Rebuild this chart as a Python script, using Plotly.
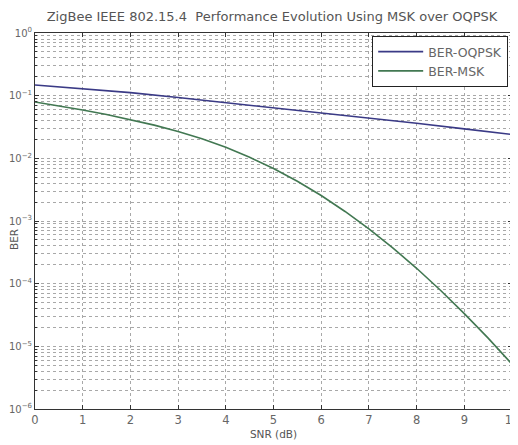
import plotly.graph_objects as go

# SNR (dB) sample points
snr_oqpsk = [0, 1, 2, 3, 4, 5, 6, 7, 8, 9, 10]
ber_oqpsk = [0.148, 0.129, 0.112, 0.0933, 0.0776, 0.0646, 0.0537, 0.0447, 0.0363, 0.0295, 0.0240]

snr_msk = [0, 0.5, 1, 1.5, 2, 2.5, 3, 3.5, 4, 4.5, 5, 5.5, 6, 6.5, 7, 7.5, 8, 8.5, 9, 9.5, 10]
ber_msk = [0.0794, 0.0689, 0.0592, 0.0501, 0.0417, 0.0339, 0.0268, 0.0205, 0.0150, 0.0104,
           0.00687, 0.00431, 0.00255, 0.00142, 7.50e-4, 3.73e-4, 1.76e-4, 7.85e-5, 3.33e-5,
           1.35e-5, 5.18e-6]

x_ticks = [0, 1, 2, 3, 4, 5, 6, 7, 8, 9, 10]
y_tickvals = [1, 1e-1, 1e-2, 1e-3, 1e-4, 1e-5, 1e-6]
y_ticktext = ["10<sup>0</sup>", "10<sup>\u22121</sup>", "10<sup>\u22122</sup>", "10<sup>\u22123</sup>",
              "10<sup>\u22124</sup>", "10<sup>\u22125</sup>", "10<sup>\u22126</sup>"]

title_text = "ZigBee IEEE 802.15.4  Performance Evolution Using MSK over OQPSK"
x_title = "SNR (dB)"
y_title = "BER"

# the page body adds an 8px offset, so the figure is sized to fit the window
FIG_W, FIG_H = 510, 437
ML, MR, MT, MB = 27, 6, 25, 36
plot_w = FIG_W - ML - MR
plot_h = FIG_H - MT - MB

font_family = "DejaVu Sans, Liberation Sans, Arial, sans-serif"
grid_col = "#a8a8a8"

fig = go.Figure()
fig.add_trace(go.Scatter(x=snr_oqpsk, y=ber_oqpsk, mode="lines", name="BER-OQPSK",
                         line=dict(color="#3a3a86", width=1.6)))
fig.add_trace(go.Scatter(x=snr_msk, y=ber_msk, mode="lines", name="BER-MSK",
                         line=dict(color="#427852", width=1.6)))

fig.update_layout(
    width=FIG_W, height=FIG_H,
    margin=dict(l=ML, r=MR, t=MT, b=MB, autoexpand=False),
    paper_bgcolor="white", plot_bgcolor="white",
    font=dict(family=font_family, size=11, color="#444"),
    title=dict(text=title_text, x=0.497, xanchor="center", xref="paper",
               yref="container", y=1 - 8 / FIG_H, yanchor="middle",
               font=dict(size=13, color="#555")),
    showlegend=True,
    legend=dict(x=0.992, y=0.992, xanchor="right", yanchor="top",
                bgcolor="white", bordercolor="#222", borderwidth=1,
                font=dict(size=12.5, color="#666"), tracegroupgap=0,
                itemwidth=45),
)

# y-axis title placed slightly below the axis centre, as in the reference
fig.add_annotation(text=y_title, xref="paper", yref="paper",
                   x=-(ML - 6) / plot_w, y=1 - (232 - MT) / plot_h,
                   xanchor="center", yanchor="middle", textangle=-90, showarrow=False,
                   font=dict(size=10.5, color="#555"))

fig.update_xaxes(
    range=[0, 10], tickvals=x_ticks, ticks="inside", ticklen=4, tickcolor="#333",
    showline=True, linecolor="#333", linewidth=1, mirror="ticks",
    showgrid=True, gridcolor=grid_col, griddash="dot", gridwidth=1,
    zeroline=False, automargin=False, ticklabeloverflow="allow",
    title=dict(text=x_title, standoff=4, font=dict(size=10.5, color="#555")),
    tickfont=dict(size=11.5, color="#666"),
)

fig.update_yaxes(
    type="log", range=[-6, 0], tickvals=y_tickvals, ticktext=y_ticktext,
    ticks="inside", ticklen=4, tickcolor="#333",
    showline=True, linecolor="#333", linewidth=1, mirror="ticks",
    showgrid=True, gridcolor=grid_col, griddash="dot", gridwidth=1,
    minor=dict(dtick="D1", ticks="inside", ticklen=2, tickcolor="#333",
               showgrid=True, gridcolor=grid_col, griddash="dot", gridwidth=1),
    zeroline=False, automargin=False, ticklabeloverflow="allow",
    tickfont=dict(size=10, color="#666"),
)

fig.write_html("out.html")
